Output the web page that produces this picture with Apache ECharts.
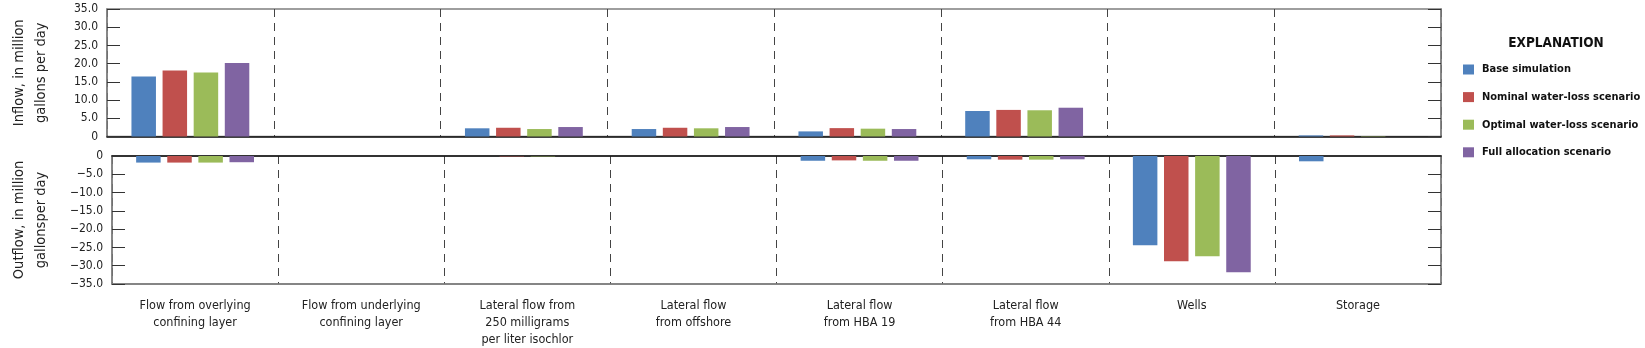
<!DOCTYPE html>
<html><head><meta charset="utf-8">
<script src="https://cdn.jsdelivr.net/npm/echarts@6/dist/echarts.min.js"></script>
<style>html,body{margin:0;padding:0;background:#fff}#c{width:1645px;height:348px}</style>
</head><body><div id="c"></div>
<script>
const categories = ["Flow from overlying\nconfining layer","Flow from underlying\nconfining layer","Lateral flow from\n250 milligrams\nper liter isochlor","Lateral flow\nfrom offshore","Lateral flow\nfrom HBA 19","Lateral flow\nfrom HBA 44","Wells","Storage"];
const seriesNames = ["Base simulation","Nominal water-loss scenario","Optimal water-loss scenario","Full allocation scenario"];
const colors = ["#4F81BD","#C0504D","#9BBB59","#8064A2"];
// Inflow (million gallons per day)
const inBase    = [16.5, 0, 2.25, 2.05, 1.4, 7.0, 0, 0.3];
const inNominal = [18.1, 0, 2.4, 2.4, 2.3, 7.3, 0, 0.3];
const inOptimal = [17.6, 0, 2.05, 2.25, 2.15, 7.2, 0, 0.1];
const inFull    = [20.2, 0, 2.6, 2.6, 2.05, 7.9, 0, 0];
// Outflow (million gallons per day)
const outBase    = [-1.8, 0, 0, 0, -1.3, -0.9, -24.4, -1.45];
const outNominal = [-1.8, 0, -0.1, 0, -1.2, -1.0, -28.8, 0];
const outOptimal = [-1.8, 0, -0.1, 0, -1.3, -1.0, -27.4, 0];
const outFull    = [-1.7, 0, 0, 0, -1.3, -0.9, -31.8, 0];
const inflowTicks = {min: 0, max: 35, interval: 5};
const outflowTicks = {min: -35, max: 0, interval: 5};

const FONT = '"DejaVu Sans Condensed","Liberation Sans Narrow",sans-serif';
const fmt = v => v === 0 ? '0' : v.toFixed(1).replace('-', '\u2212');
const GL = 92, GW = 1349;
const dashed = {show: true, interval: 0, lineStyle: {color: '#444', type: [8, 6], width: 1}};

function yAx(gi, t, name, gap, right) {
  return {
    type: 'value', gridIndex: gi, min: t.min, max: t.max, interval: t.interval,
    position: right ? 'right' : 'left',
    name: right ? '' : name, nameLocation: 'middle', nameGap: gap, nameRotate: 90,
    nameTextStyle: {fontFamily: FONT, fontSize: 14.5, color: '#222', lineHeight: 22},
    axisLine: {show: true, lineStyle: {color: '#7f7f7f', width: 1.5}},
    axisTick: {show: true, inside: true, length: 13, lineStyle: {color: '#333'}},
    axisLabel: {show: !right, margin: 9, fontFamily: FONT, fontSize: 12, color: '#222', formatter: fmt},
    splitLine: {show: false}
  };
}
const nz = a => a.map(v => v === 0 ? null : v);
const series = [];
const ins = [inBase, inNominal, inOptimal, inFull];
const outs = [outBase, outNominal, outOptimal, outFull];
for (let i = 0; i < 4; i++) {
  series.push({name: seriesNames[i], type: 'bar', xAxisIndex: 0, yAxisIndex: 0, data: nz(ins[i]),
    barWidth: 24.5, barGap: '27%', itemStyle: {color: colors[i]}});
}
for (let i = 0; i < 4; i++) {
  series.push({name: seriesNames[i], type: 'bar', xAxisIndex: 1, yAxisIndex: 2, data: nz(outs[i]),
    barWidth: 24.5, barGap: '27%', itemStyle: {color: colors[i]}});
}
const chart = echarts.init(document.getElementById('c'), null, {renderer: 'canvas'});
chart.setOption({
  animation: false,
  title: {text: 'EXPLANATION', left: 1551, top: 31, textAlign: 'center',
    textStyle: {fontFamily: FONT, fontSize: 13.5, fontWeight: 'bold', color: '#111'}},
  legend: {orient: 'vertical', left: 1458, top: 59, itemWidth: 11, itemHeight: 10, itemGap: 16.6,
    data: seriesNames, icon: 'rect',
    textStyle: {fontFamily: FONT, fontSize: 11, fontWeight: 'bold', color: '#111', padding: [0, 0, 0, 3]}},
  grid: [
    {left: GL, top: 9, width: GW, height: 127.5, show: true, borderColor: '#7f7f7f', borderWidth: 1.5},
    {left: GL, top: 156, width: GW, height: 128, show: true, borderColor: '#7f7f7f', borderWidth: 1.5}
  ],
  xAxis: [
    {type: 'category', gridIndex: 0, data: categories, position: 'bottom',
      axisLine: {show: true, onZero: false, lineStyle: {color: '#111', width: 1.5}},
      axisTick: {show: false}, axisLabel: {show: false}, splitLine: dashed},
    {type: 'category', gridIndex: 1, data: categories, position: 'bottom',
      axisLine: {show: true, onZero: false, lineStyle: {color: '#7f7f7f', width: 1.5}},
      axisTick: {show: false},
      axisLabel: {interval: 0, margin: 13, fontFamily: FONT, fontSize: 12.5, color: '#222', lineHeight: 17, verticalAlign: 'top'},
      splitLine: dashed},
    {type: 'category', gridIndex: 1, data: categories, position: 'top',
      axisLine: {show: true, onZero: false, lineStyle: {color: '#111', width: 1.5}},
      axisTick: {show: false}, axisLabel: {show: false}, splitLine: {show: false}}
  ],
  yAxis: [
    yAx(0, inflowTicks, 'Inflow, in million\ngallons per day', 55, false),
    yAx(0, inflowTicks, '', 0, true),
    yAx(1, outflowTicks, 'Outflow, in million\ngallonsper day', 60, false),
    yAx(1, outflowTicks, '', 0, true)
  ],
  series: series
});
</script></body></html>
